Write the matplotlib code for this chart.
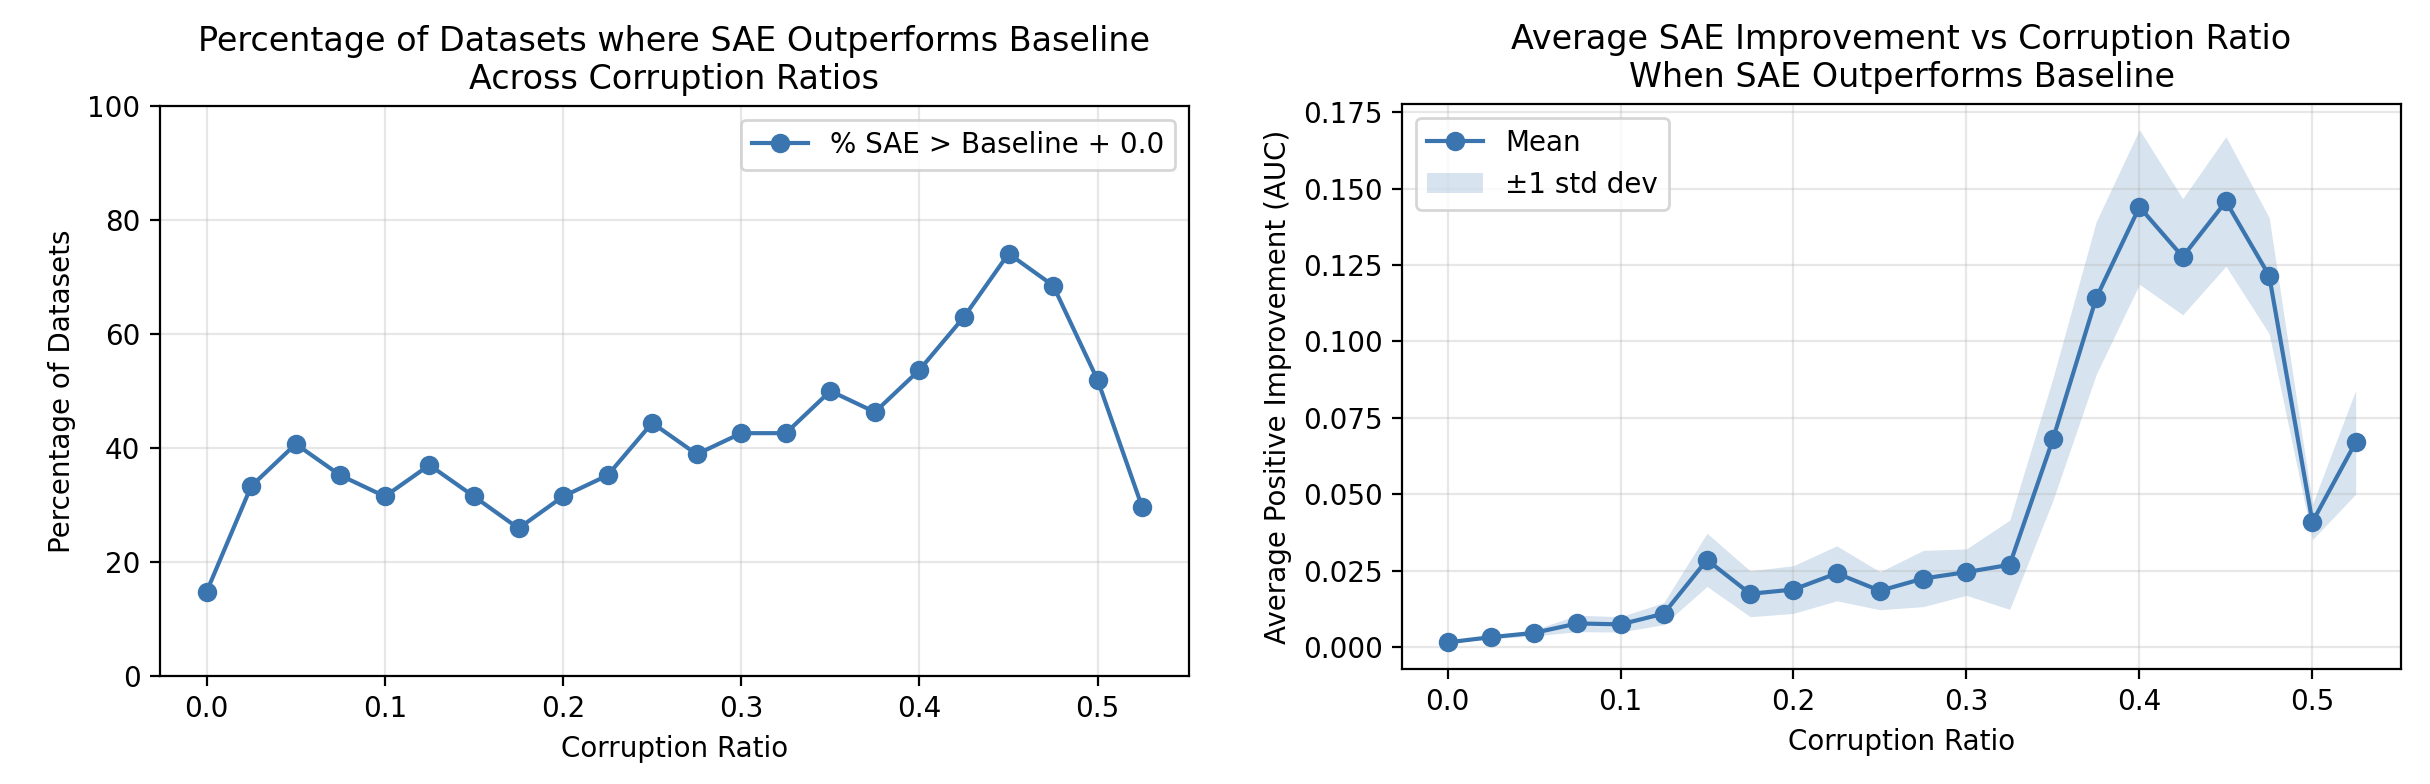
import numpy as np
import matplotlib
matplotlib.use("Agg")
import matplotlib.pyplot as plt

ratios = [0.0, 0.025, 0.05, 0.075, 0.1, 0.125, 0.15, 0.175, 0.2, 0.225, 0.25,
          0.275, 0.3, 0.325, 0.35, 0.375, 0.4, 0.425, 0.45, 0.475, 0.5, 0.525]

# percentage of datasets (out of 54) where SAE beats baseline
pct_better = [14.8, 33.3, 40.7, 35.2, 31.5, 37.0, 31.5, 25.9, 31.5, 35.2, 44.4,
              38.9, 42.6, 42.6, 50.0, 46.3, 53.7, 63.0, 74.1, 68.5, 51.9, 29.6]

mean_impr = [0.0015, 0.0032, 0.0046, 0.0077, 0.0074, 0.0109, 0.0285, 0.0174,
             0.0188, 0.0241, 0.0184, 0.0224, 0.0245, 0.0269, 0.0680, 0.1142,
             0.1440, 0.1277, 0.1458, 0.1215, 0.0409, 0.0670]
std_impr = [0.0003, 0.0005, 0.0010, 0.0027, 0.0025, 0.0036, 0.0087, 0.0075,
            0.0078, 0.0090, 0.0062, 0.0092, 0.0076, 0.0146, 0.0200, 0.0250,
            0.0253, 0.0190, 0.0212, 0.0190, 0.0058, 0.0170]

color = '#3a75af'
x = np.array(ratios)
m = np.array(mean_impr)
s = np.array(std_impr)

dpi = 200
fig = plt.figure(figsize=(2430 / dpi, 784 / dpi), dpi=dpi)
ax1 = fig.add_axes([0.0658, 0.1378, 0.4235, 0.727])
ax2 = fig.add_axes([0.5770, 0.1467, 0.4111, 0.7207])

ax1.plot(x, pct_better, marker='o', color=color, linewidth=1.5, markersize=6,
         label='% SAE > Baseline + 0.0')
ax1.set_ylim(0, 100)
ax1.set_xlabel('Corruption Ratio')
ax1.set_ylabel('Percentage of Datasets')
ax1.set_title('Percentage of Datasets where SAE Outperforms Baseline\nAcross Corruption Ratios', fontsize=12)
ax1.grid(True, alpha=0.3)
ax1.legend(loc='upper right')

ax2.plot(x, m, marker='o', color=color, linewidth=1.5, markersize=6, label='Mean')
ax2.fill_between(x, m - s, m + s, color=color, alpha=0.2, linewidth=0, label='±1 std dev')
ax2.set_xlabel('Corruption Ratio')
ax2.set_ylabel('Average Positive Improvement (AUC)')
ax2.set_title('Average SAE Improvement vs Corruption Ratio\nWhen SAE Outperforms Baseline', fontsize=12)
ax2.grid(True, alpha=0.3)
ax2.legend(loc='upper left')

fig.savefig('out.png', dpi=dpi)
